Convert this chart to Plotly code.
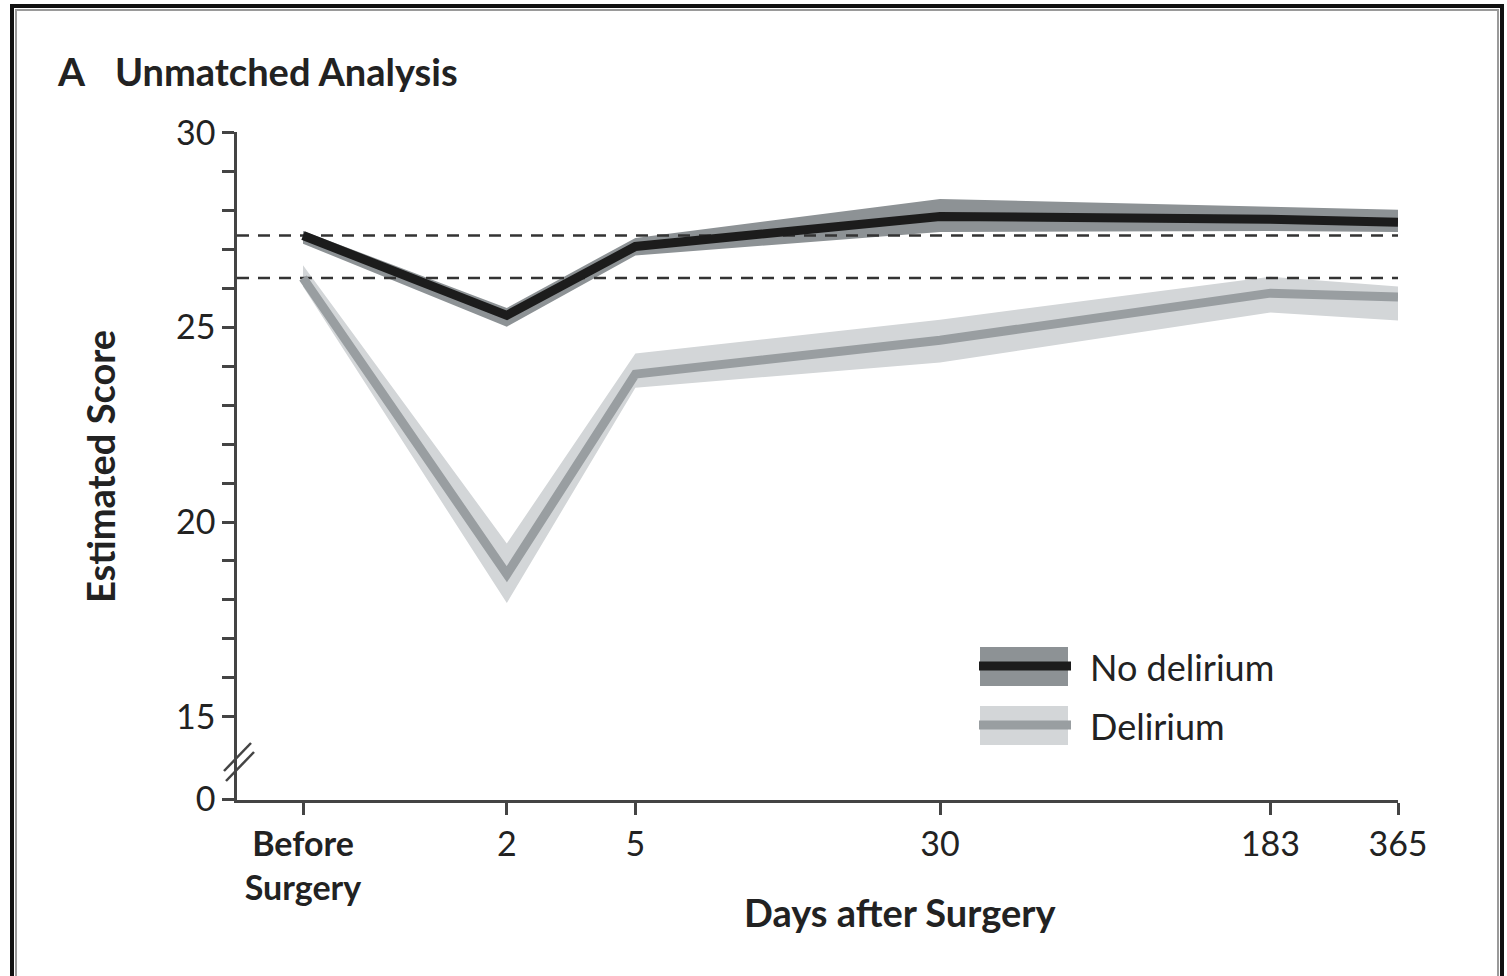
import numpy as np
import plotly.graph_objects as go

# ---- data ----
days = [0, 2, 5, 30, 183, 365]
x_labels = ["<b>Before</b><br><b>Surgery</b>", "2", "5", "30", "183", "365"]

no_delirium = [27.36, 25.31, 27.08, 27.85, 27.78, 27.70]
no_delirium_lo = [27.15, 25.02, 26.85, 27.45, 27.48, 27.45]
no_delirium_hi = [27.48, 25.50, 27.30, 28.30, 28.10, 28.02]

delirium = [26.27, 18.66, 23.80, 24.67, 25.88, 25.78]
delirium_lo = [26.05, 17.92, 23.45, 24.10, 25.38, 25.18]
delirium_hi = [26.60, 19.45, 24.33, 25.20, 26.30, 26.05]

y_tick_vals = [12.872, 15, 16, 17, 18, 19, 20, 21, 22, 23, 24, 25, 26, 27, 28, 29, 30]
y_tick_text = ["0", "15", "", "", "", "", "20", "", "", "", "", "25", "", "", "", "", "30"]

FONT = "Lato"
TXT = "#222222"
W, H = 1507, 976
ML, MR, MT, MB = 237, 109, 132, 176
PW, PH = W - ML - MR, H - MT - MB

def px(xp):
    return (xp - ML) / PW

def py(yp):
    return (H - MB - yp) / PH

xpos = [d + 1 for d in days]
xr = [-0.1545, np.log10(366)]
xends = [10 ** xr[0], 10 ** (xr[1] + 0.015)]

C_ND_LINE = "#1c1c1c"
C_ND_BAND = "#8d9295"
C_D_LINE = "#999ea1"
C_D_BAND = "#d3d6d8"

fig = go.Figure()

def band(lo, hi, color):
    fig.add_trace(go.Scatter(
        x=xpos + xpos[::-1], y=hi + lo[::-1], fill="toself", fillcolor=color,
        line=dict(width=0, color=color), mode="lines", hoverinfo="skip", showlegend=False))

band(delirium_lo, delirium_hi, C_D_BAND)
band(no_delirium_lo, no_delirium_hi, C_ND_BAND)

for base in [no_delirium[0], delirium[0]]:
    fig.add_trace(go.Scatter(x=xends, y=[base, base], mode="lines", cliponaxis=False,
                             line=dict(color="#333333", width=2.5, dash="12px,9px"),
                             hoverinfo="skip", showlegend=False))

fig.add_trace(go.Scatter(x=xpos, y=delirium, mode="lines",
                         line=dict(color=C_D_LINE, width=9), showlegend=False))
fig.add_trace(go.Scatter(x=xpos, y=no_delirium, mode="lines",
                         line=dict(color=C_ND_LINE, width=9), showlegend=False))

axis_col = "#444444"
fig.update_xaxes(type="log", range=xr, tickmode="array", tickvals=xpos, ticktext=x_labels,
                 showgrid=False, zeroline=False, showline=True, linecolor=axis_col, linewidth=2.5,
                 ticks="outside", ticklen=12, tickwidth=2.5, tickcolor=axis_col,
                 tickfont=dict(family=FONT, size=34, color=TXT))
fig.update_yaxes(range=[12.86, 30.02], tickmode="array", tickvals=y_tick_vals, ticktext=y_tick_text,
                 showgrid=False, zeroline=False, showline=True, linecolor=axis_col, linewidth=2.5,
                 ticks="outside", ticklen=12, tickwidth=2.5, tickcolor=axis_col,
                 tickfont=dict(family=FONT, size=34, color=TXT))

shapes = []
# frame
shapes.append(dict(type="rect", xref="paper", yref="paper", x0=px(12), x1=px(1502), y0=py(1100), y1=py(6),
                   line=dict(color="#111111", width=4)))
shapes.append(dict(type="rect", xref="paper", yref="paper", x0=px(16), x1=px(1498), y0=py(1100), y1=py(10),
                   line=dict(color="#9a9a9a", width=2)))
# axis break
shapes.append(dict(type="line", xref="paper", yref="paper", x0=px(224), x1=px(251), y0=py(771), y1=py(743),
                   line=dict(color=axis_col, width=2.5)))
shapes.append(dict(type="line", xref="paper", yref="paper", x0=px(226), x1=px(254), y0=py(781), y1=py(752),
                   line=dict(color=axis_col, width=2.5)))
# legend
shapes.append(dict(type="rect", xref="paper", yref="paper", x0=px(980), x1=px(1068), y0=py(686), y1=py(647),
                   fillcolor=C_ND_BAND, line=dict(width=0)))
shapes.append(dict(type="line", xref="paper", yref="paper", x0=px(979), x1=px(1071), y0=py(666), y1=py(666),
                   line=dict(color=C_ND_LINE, width=9)))
shapes.append(dict(type="rect", xref="paper", yref="paper", x0=px(980), x1=px(1068), y0=py(745), y1=py(706),
                   fillcolor=C_D_BAND, line=dict(width=0)))
shapes.append(dict(type="line", xref="paper", yref="paper", x0=px(979), x1=px(1071), y0=py(725), y1=py(725),
                   line=dict(color=C_D_LINE, width=9)))

annotations = [
    dict(text="<b>A</b>", x=px(55), y=py(71), xref="paper", yref="paper", xanchor="left", yanchor="middle",
         showarrow=False, font=dict(family=FONT, size=39, color=TXT)),
    dict(text="<b>Unmatched Analysis</b>", x=px(113), y=py(71), xref="paper", yref="paper", xanchor="left",
         yanchor="middle", showarrow=False, font=dict(family=FONT, size=38, color=TXT)),
    dict(text="No delirium", x=px(1088), y=py(667), xref="paper", yref="paper", xanchor="left", yanchor="middle",
         showarrow=False, font=dict(family=FONT, size=36, color=TXT)),
    dict(text="Delirium", x=px(1088), y=py(726), xref="paper", yref="paper", xanchor="left", yanchor="middle",
         showarrow=False, font=dict(family=FONT, size=36, color=TXT)),
    dict(text="<b>Days after Surgery</b>", x=px(900), y=py(912), xref="paper", yref="paper", xanchor="center",
         yanchor="middle", showarrow=False, font=dict(family=FONT, size=38, color=TXT)),
    dict(text="<b>Estimated Score</b>", x=px(100), y=py(467), xref="paper", yref="paper", xanchor="center",
         yanchor="middle", textangle=-90, showarrow=False, font=dict(family=FONT, size=38, color=TXT)),
]

fig.update_layout(width=W, height=H, margin=dict(l=ML, r=MR, t=MT, b=MB),
                  paper_bgcolor="white", plot_bgcolor="white",
                  shapes=shapes, annotations=annotations, showlegend=False)

fig.write_html("out.html")
